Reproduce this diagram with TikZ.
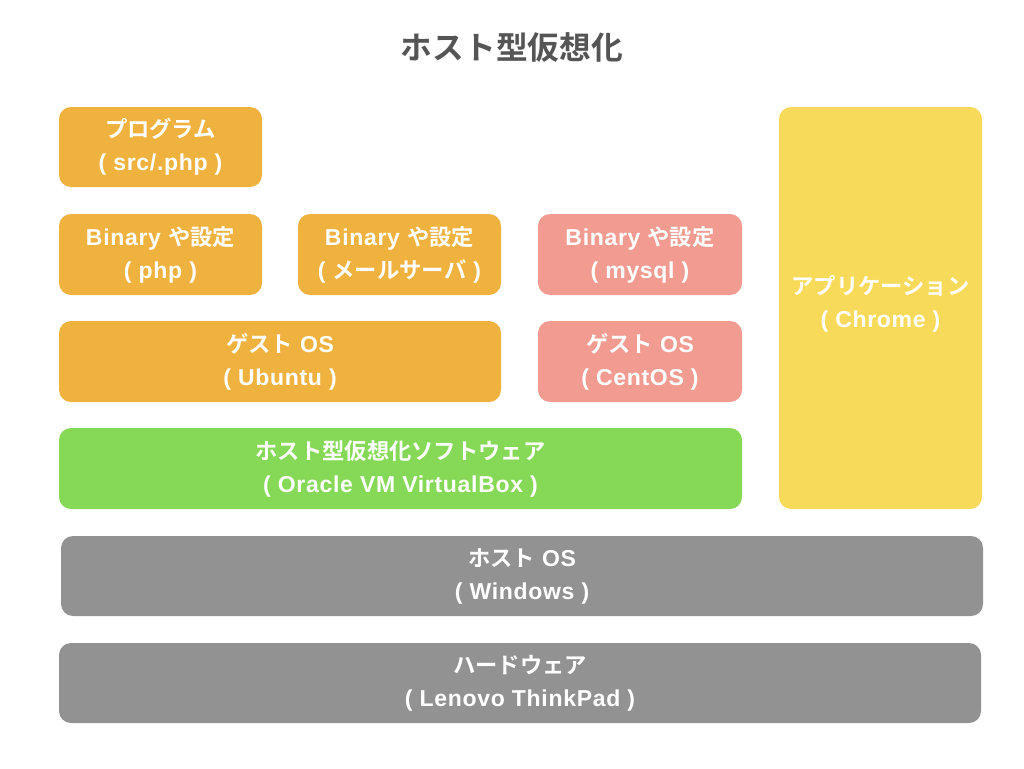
\documentclass[tikz,border=0pt]{standalone}
\usepackage{fontspec}
\setmainfont{Liberation Sans}[LetterSpace=3.0]
\newfontfamily\jp{Noto Sans CJK JP}[BoldFont={Noto Sans CJK JP Bold}, Scale=0.97]
\usetikzlibrary{positioning}
\definecolor{progorange}{HTML}{F0B23F}
\definecolor{sqlpink}{HTML}{F19B91}
\definecolor{vmgreen}{HTML}{86D957}
\definecolor{appyellow}{HTML}{F8DA5A}
\definecolor{hostgray}{HTML}{929292}
\definecolor{titlegray}{HTML}{555555}
\tikzset{
  layer/.style={
    draw=none,
    rounded corners=12pt,
    inner sep=0pt,
    text=white,
    font=\bfseries\fontsize{23}{33}\selectfont,
    align=center
  },
  ttl/.style={font=\jp\bfseries\fontsize{32.7}{36}\selectfont, text=titlegray, inner sep=0pt},
}
\newcommand{\Layer}[6]{%
  \node[layer, fill=#2, minimum width=#4pt, minimum height=#5pt] (#1) at (#3) {#6};
}
\begin{document}
\begin{tikzpicture}[x=1pt,y=-1pt]
  \useasboundingbox[fill=white] (0,0) rectangle (1024,768);
  \node[ttl] (title) at (512,48) {ホスト型仮想化};
  % guest side
  \Layer{prog}{progorange}{160.5,147}{203}{80}{{\jp プログラム}\\( src/.php )}
  \Layer{binphp}{progorange}{160.5,254.5}{203}{81}{Binary {\jp や設定}\\( php )}
  \Layer{binmail}{progorange}{399.5,254.5}{203}{81}{Binary {\jp や設定}\\( {\jp メールサーバ} )}
  \Layer{binsql}{sqlpink}{640,254.5}{204}{81}{Binary {\jp や設定}\\( mysql )}
  \Layer{ubuntu}{progorange}{280,361.5}{442}{81}{{\jp ゲスト} OS\\( Ubuntu )}
  \Layer{centos}{sqlpink}{640,361.5}{204}{81}{{\jp ゲスト} OS\\( CentOS )}
  \Layer{vbox}{vmgreen}{400.5,468.5}{683}{81}{{\jp ホスト型仮想化ソフトウェア}\\( Oracle VM VirtualBox )}
  % host side
  \Layer{chrome}{appyellow}{880.5,308}{203}{402}{{\jp アプリケーション}\\( Chrome )\rule[-13pt]{0pt}{1pt}}
  \Layer{hostos}{hostgray}{522,576}{922}{80}{{\jp ホスト} OS\\( Windows )}
  \Layer{hw}{hostgray}{520,683}{922}{80}{{\jp ハードウェア}\\( Lenovo ThinkPad )}
\end{tikzpicture}
\end{document}
